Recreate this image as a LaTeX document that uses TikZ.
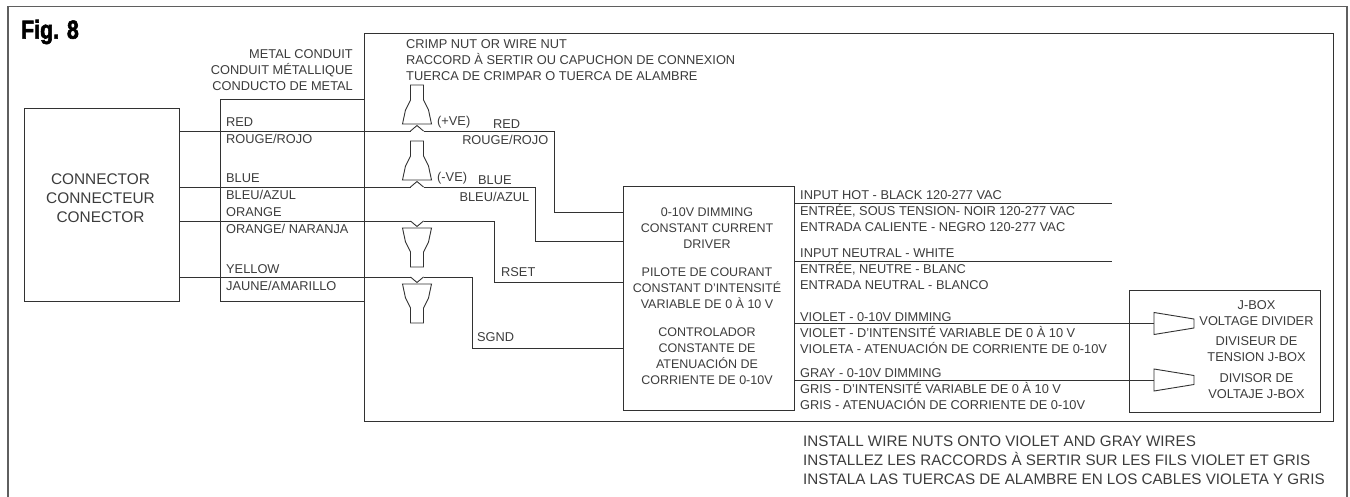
\documentclass[tikz,border=0pt]{standalone}
\usepackage{fontspec}
\setmainfont{Liberation Sans}
\newfontfamily\figfont[BoldFont={* Bold},BoldFeatures={FakeBold=2.5}]{Liberation Sans}
\usepackage{xcolor}
\definecolor{wirecol}{RGB}{50, 50, 50}
\definecolor{txtcol}{RGB}{60, 60, 60}
\definecolor{framecol}{RGB}{95, 95, 95}
\tikzset{
  lbl/.style={font=\fontsize{12.8}{16}\selectfont, text=txtcol, inner sep=0pt},
  drvlbl/.style={font=\fontsize{12.5}{16}\selectfont, text=txtcol, inner sep=0pt},
  bigLbl/.style={font=\fontsize{15.4}{19}\selectfont, text=txtcol, inner sep=0pt},
  note/.style={font=\fontsize{15.2}{19}\selectfont, text=txtcol, inner sep=0pt},
  boxnode/.style={draw=wirecol, line width=0.9pt, inner sep=0pt, anchor=north west},
  wire/.style={draw=wirecol, line width=0.9pt},
  nutdown/.pic={
    \fill[white] (-6.5,-1) rectangle (6.5,1);
    \draw[wire] (-6.5,0) -- (0,5.5) -- (6.5,0);
    \draw[wire] (-14.5,7) -- (14.5,7) -- (11.5,21) -- (6.5,31) -- (6.5,46) -- (-6.5,46) -- (-6.5,31) -- (-11.5,21) -- cycle;
  },
  nutside/.pic={
    \draw[wire] (0,-11) -- (40,-4.5) -- (40,4.5) -- (0,11) -- cycle;
  }
}
\begin{document}
\begin{tikzpicture}[x=1pt, y=-1pt]
\useasboundingbox (0,0) rectangle (1350,497);
\fill[white] (0,0) rectangle (1350,497);
\draw[framecol, line width=1.6pt] (8,497) -- (8,6.5) -- (1347,6.5) -- (1347,497);
\node[anchor=west, inner sep=0pt, xscale=0.82, font=\fontsize{26}{26}\selectfont\figfont\bfseries, text=black] (figtitle) at (21,32) {Fig. 8};

% boxes
\node[boxnode, minimum width=969pt, minimum height=387.5pt] (fixture) at (364,33.5) {};
\node[boxnode, minimum width=154.5pt, minimum height=193pt] (conn) at (24,108) {};
\node[boxnode, minimum width=171pt, minimum height=223.5pt] (driver) at (622.5,186.5) {};
\node[boxnode, minimum width=191pt, minimum height=121.5pt] (jbox) at (1129,290.5) {};

% conduit
\coordinate (conduittop) at (220.5,99);
\coordinate (conduitbot) at (220.5,301);
\draw[wire] (conduittop -| fixture.west) -- (conduittop) -- (conduitbot) -- (conduitbot -| fixture.west);

% wires in
\coordinate (rednut) at (417,131);
\coordinate (bluenut) at (417,187);
\coordinate (orangenut) at (417,221);
\coordinate (yellownut) at (417,277);
\coordinate (redpin) at (554.5,212);
\coordinate (bluepin) at (535.5,241.5);
\coordinate (rsetpin) at (494.5,282);
\coordinate (sgndpin) at (472.5,348);
\draw[wire] (conn.east |- rednut) -- (redpin |- rednut) -- (redpin) -- (redpin -| driver.west);
\draw[wire] (conn.east |- bluenut) -- (bluepin |- bluenut) -- (bluepin) -- (bluepin -| driver.west);
\draw[wire] (conn.east |- orangenut) -- (rsetpin |- orangenut) -- (rsetpin) -- (rsetpin -| driver.west);
\draw[wire] (conn.east |- yellownut) -- (sgndpin |- yellownut) -- (sgndpin) -- (sgndpin -| driver.west);
\pic[yscale=-1] at (rednut) {nutdown};
\pic[yscale=-1] at (bluenut) {nutdown};
\pic at (orangenut) {nutdown};
\pic at (yellownut) {nutdown};

% wires out
\coordinate (hotend) at (1112,203);
\coordinate (neutralend) at (1112,261);
\coordinate (violetnut) at (1154,323.5);
\coordinate (graynut) at (1154,380);
\draw[wire] (driver.east |- hotend) -- (hotend);
\draw[wire] (driver.east |- neutralend) -- (neutralend);
\draw[wire] (driver.east |- violetnut) -- (violetnut);
\draw[wire] (driver.east |- graynut) -- (graynut);
\pic at (violetnut) {nutside};
\pic at (graynut) {nutside};

% labels left
\node[bigLbl, align=center] (conntext) at (100.5,198) {CONNECTOR\\CONNECTEUR\\CONECTOR};
\node[lbl, align=right, anchor=east] (conduittext) at (353,70) {METAL CONDUIT\\CONDUIT MÉTALLIQUE\\CONDUCTO DE METAL};
\node[lbl, align=left, anchor=west] (crimptext) at (406,60) {CRIMP NUT OR WIRE NUT\\RACCORD À SERTIR OU CAPUCHON DE CONNEXION\\TUERCA DE CRIMPAR O TUERCA DE ALAMBRE};
\node[lbl, anchor=west] (redtext) at (226,122.5) {RED};
\node[lbl, anchor=west] (rougetext) at (226,139) {ROUGE/ROJO};
\node[lbl, anchor=west] (bluetext) at (226,178) {BLUE};
\node[lbl, anchor=west] (bleutext) at (226,195) {BLEU/AZUL};
\node[lbl, anchor=west] (orangetext) at (226,212) {ORANGE};
\node[lbl, anchor=west] (naranjatext) at (226,228.5) {ORANGE/ NARANJA};
\node[lbl, anchor=west] (yellowtext) at (226,269) {YELLOW};
\node[lbl, anchor=west] (jaunetext) at (226,285.5) {JAUNE/AMARILLO};
\node[lbl, anchor=west] (plustext) at (437,122) {(+VE)};
\node[lbl, anchor=west] (minustext) at (437,178) {(-VE)};
\node[lbl, anchor=west] (redtextb) at (493,124) {RED};
\node[lbl, anchor=east] (rougetextb) at (548.5,140) {ROUGE/ROJO};
\node[lbl, anchor=west] (bluetextb) at (478,180) {BLUE};
\node[lbl, anchor=east] (bleutextb) at (529.5,196.5) {BLEU/AZUL};
\node[lbl, anchor=west] (rsettext) at (501,272) {RSET};
\node[lbl, anchor=west] (sgndtext) at (477,337) {SGND};

% driver
\node[drvlbl, align=center] (drivertexta) at (707,228) {0-10V DIMMING\\CONSTANT CURRENT\\DRIVER};
\node[drvlbl, align=center] (drivertextb) at (707,288) {PILOTE DE COURANT\\CONSTANT D’INTENSITÉ\\VARIABLE DE 0 À 10 V};
\node[drvlbl, align=center] (drivertextc) at (707,356.5) {CONTROLADOR\\CONSTANTE DE\\ATENUACIÓN DE\\CORRIENTE DE 0-10V};

% labels right
\node[lbl, anchor=west, align=left] (hottext) at (800,211.5) {INPUT HOT - BLACK 120-277 VAC\\ENTRÉE, SOUS TENSION- NOIR 120-277 VAC\\ENTRADA CALIENTE - NEGRO 120-277 VAC};
\node[lbl, anchor=west, align=left] (neutraltext) at (800,269) {INPUT NEUTRAL - WHITE\\ENTRÉE, NEUTRE - BLANC\\ENTRADA NEUTRAL - BLANCO};
\node[lbl, anchor=west, align=left] (violettext) at (800,333) {VIOLET - 0-10V DIMMING\\VIOLET - D’INTENSITÉ VARIABLE DE 0 À 10 V\\VIOLETA - ATENUACIÓN DE CORRIENTE DE 0-10V};
\node[lbl, anchor=west, align=left] (graytext) at (800,389) {GRAY - 0-10V DIMMING\\GRIS - D’INTENSITÉ VARIABLE DE 0 À 10 V\\GRIS - ATENUACIÓN DE CORRIENTE DE 0-10V};

% j-box
\node[lbl, align=center] (jboxtexta) at (1256.5,313) {J-BOX\\VOLTAGE DIVIDER};
\node[lbl, align=center] (jboxtextb) at (1256.5,349) {DIVISEUR DE\\TENSION J-BOX};
\node[lbl, align=center] (jboxtextc) at (1256.5,386) {DIVISOR DE\\VOLTAJE J-BOX};

\node[note, anchor=west, align=left] (installtext) at (803,460) {INSTALL WIRE NUTS ONTO VIOLET AND GRAY WIRES\\INSTALLEZ LES RACCORDS À SERTIR SUR LES FILS VIOLET ET GRIS\\INSTALA LAS TUERCAS DE ALAMBRE EN LOS CABLES VIOLETA Y GRIS};
\end{tikzpicture}
\end{document}
